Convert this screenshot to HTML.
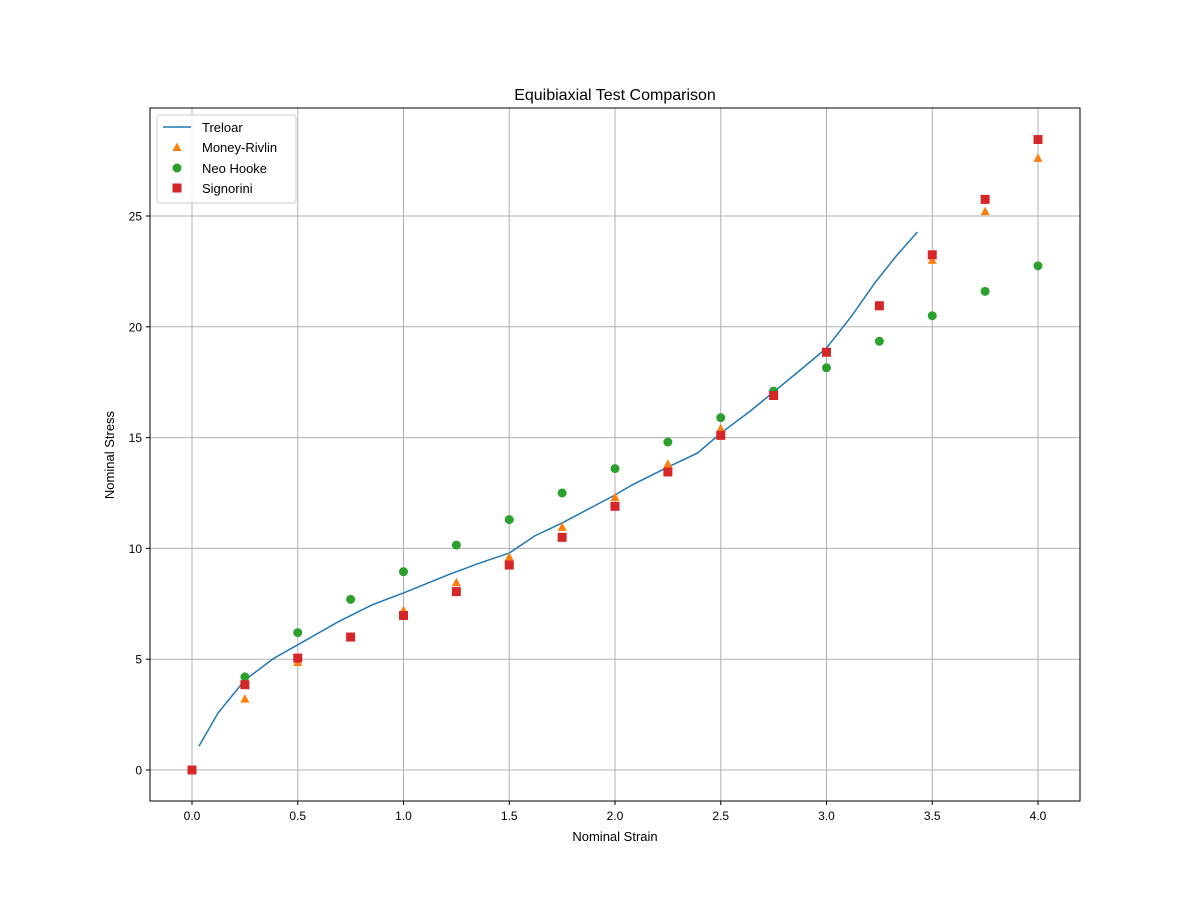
<!DOCTYPE html>
<html><head><meta charset="utf-8"><style>
body{margin:0;background:#fff;font-family:"Liberation Sans","DejaVu Sans",sans-serif;}
svg text{font-family:"Liberation Sans","DejaVu Sans",sans-serif;}
</style></head><body>
<svg id="chart" width="1200" height="900">
<rect x="0" y="0" width="1200" height="900" fill="#fff"/>
<g id="grid"></g>
<g id="marks"></g>
<rect x="150" y="108" width="930" height="693" fill="none" stroke="#000" stroke-width="1"/>
<g id="axes"></g>
<text x="615" y="100" text-anchor="middle" font-size="16">Equibiaxial Test Comparison</text>
<text x="615" y="841" text-anchor="middle" font-size="13">Nominal Strain</text>
<text x="114" y="455" text-anchor="middle" font-size="13" transform="rotate(-90 114 455)">Nominal Stress</text>
<g>
<rect x="157" y="115" width="139" height="88" rx="3" fill="#fff" fill-opacity="0.8" stroke="#ccc"/>
<g><line x1="163" y1="127" x2="191" y2="127" stroke="#1f77b4" stroke-width="1.5"/><text x="202" y="132" font-size="13">Treloar</text></g>
<g><polygon points="177,142.5 181.5,151 172.5,151" fill="#ff7f0e"/><text x="202" y="152" font-size="13">Money-Rivlin</text></g>
<g><circle cx="177" cy="168" r="4.5" fill="#2ca02c"/><text x="202" y="173" font-size="13">Neo Hooke</text></g>
<g><rect x="172.5" y="183.5" width="9" height="9" fill="#d62728"/><text x="202" y="193" font-size="13">Signorini</text></g>
</g>
</svg>
<script>
const xTicks=[0,0.5,1,1.5,2,2.5,3,3.5,4];
const xTickLabels=["0.0","0.5","1.0","1.5","2.0","2.5","3.0","3.5","4.0"];
const yTicks=[0,5,10,15,20,25];
const treloarX=[0.033,0.123,0.25,0.388,0.5,0.69,0.851,1.0,1.22,1.36,1.5,1.62,1.75,2.0,2.08,2.25,2.39,2.5,2.64,2.75,2.87,3.0,3.12,3.23,3.33,3.43];
const treloarY=[1.08,2.57,4.06,5.05,5.65,6.68,7.45,7.99,8.84,9.34,9.79,10.56,11.15,12.41,12.86,13.67,14.3,15.2,16.2,17.06,18.0,19.04,20.5,22.0,23.2,24.28];
const strainX=[0,0.25,0.5,0.75,1,1.25,1.5,1.75,2,2.25,2.5,2.75,3,3.25,3.5,3.75,4];
const mrY=[0,3.2,4.85,6.0,7.2,8.45,9.6,10.95,12.3,13.8,15.4,17.1,18.85,20.9,23.0,25.2,27.6];
const nhY=[0,4.2,6.2,7.7,8.95,10.15,11.3,12.5,13.6,14.8,15.9,17.1,18.15,19.35,20.5,21.6,22.75];
const sigY=[0,3.85,5.05,6.0,6.97,8.05,9.25,10.5,11.9,13.45,15.1,16.9,18.85,20.95,23.25,25.75,28.45];
const NS="http://www.w3.org/2000/svg";
const sx=v=>192+v*211.5, sy=v=>770-v*22.16;
function mk(t,a,p){const e=document.createElementNS(NS,t);for(const k in a)e.setAttribute(k,a[k]);p.appendChild(e);return e;}
const grid=document.getElementById('grid'),axes=document.getElementById('axes'),marks=document.getElementById('marks');
xTicks.forEach((v,i)=>{const x=sx(v);
const g=mk('line',{x1:x,x2:x,y1:108,y2:801,stroke:'#b0b0b0','stroke-width':1},grid);


mk('line',{x1:x,x2:x,y1:801,y2:805,stroke:'#000'},axes);
const t=mk('text',{x:x,y:820,'text-anchor':'middle','font-size':12},axes);t.textContent=xTickLabels[i];

});
yTicks.forEach(v=>{const y=sy(v);
const g=mk('line',{x1:150,x2:1080,y1:y,y2:y,stroke:'#b0b0b0','stroke-width':1},grid);


mk('line',{x1:146,x2:150,y1:y,y2:y,stroke:'#000'},axes);
const t=mk('text',{x:142,y:y+4.5,'text-anchor':'end','font-size':12},axes);t.textContent=String(v);

});
const line=mk('polyline',{points:treloarX.map((x,i)=>sx(x)+','+sy(treloarY[i])).join(' '),fill:'none',stroke:'#1f77b4','stroke-width':1.5},marks);


strainX.forEach((x,i)=>{const cx=sx(x);
let y=sy(mrY[i]);
const p=mk('polygon',{points:`${cx},${y-5} ${cx+4.5},${y+3.5} ${cx-4.5},${y+3.5}`,fill:'#ff7f0e'},marks);


y=sy(nhY[i]);
const c=mk('circle',{cx:cx,cy:y,r:4.5,fill:'#2ca02c'},marks);


y=sy(sigY[i]);
const r=mk('rect',{x:cx-4.5,y:y-4.5,width:9,height:9,fill:'#d62728'},marks);

});
</script>
</body></html>
